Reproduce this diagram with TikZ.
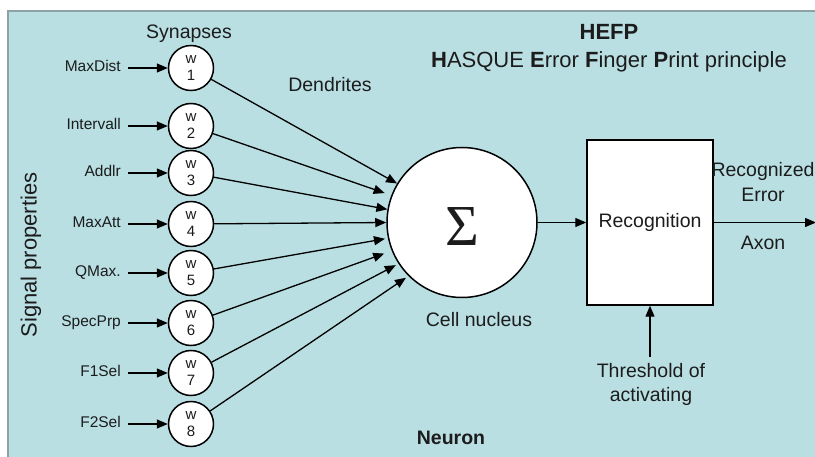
\documentclass[tikz,border=0pt]{standalone}
\usepackage{fontspec}
\setmainfont{Liberation Sans}
\newfontfamily\sigmafont{Liberation Serif}
\usetikzlibrary{arrows.meta}
\definecolor{panel}{HTML}{B9DFE3}
\definecolor{frameline}{HTML}{8DA2A5}
\definecolor{ink}{HTML}{1C1C1C}
\begin{document}
\begin{tikzpicture}[x=1pt,y=-1pt,
  txt/.style={inner sep=0pt, text height=0.716em, text depth=0pt, text=ink},
  small/.style={txt, font=\fontsize{15.5}{18}\selectfont},
  main/.style={txt, font=\fontsize{19.5}{24}\selectfont},
  title/.style={txt, font=\fontsize{22}{26}\selectfont},
  syn/.style={circle, draw, fill=white, line width=1.5pt, minimum size=45pt,
    inner sep=0pt, align=center, text=ink, font=\fontsize{15}{17}\selectfont},
  arr/.style={line width=1.3pt, -{Triangle[length=11pt,width=9pt]}},
]
\useasboundingbox (0,0) rectangle (815,457);
\fill[white] (0,0) rectangle (815,457);
% panel behind the neuron model
\draw[draw=frameline, line width=2pt, fill=panel] (8,11) rectangle (840,480);

% titles
\node[title, font=\bfseries\fontsize{22}{26}\selectfont] (hefp) at (609,36) {HEFP};
\node[title] (principle) at (609,64)
  {\textbf{H}ASQUE \textbf{E}rror \textbf{F}inger \textbf{P}rint principle};

\node[main] (synapses) at (189,35) {Synapses};
\node[main] (dendrites) at (330,88) {Dendrites};
\node[txt, font=\fontsize{22}{26}\selectfont, rotate=90] (signal) at (33,255) {Signal properties};

% cell nucleus
\node[circle, draw, fill=white, line width=1.5pt, minimum size=150pt, inner sep=0pt,
  font=\sigmafont\fontsize{58}{60}\selectfont, text=ink, text height=47pt, text depth=0pt]
  (sum) at (462,222.5) {Σ};
\node[main] (nucleus) at (479,323) {Cell nucleus};

% inputs and synapses
\foreach \n/\lab/\y in {1/MaxDist/68, 2/Intervall/126, 3/Addlr/173, 4/MaxAtt/224,
                        5/QMax./273, 6/SpecPrp/323, 7/F1Sel/373, 8/F2Sel/424} {
  \node[syn] (s\n) at (191,\y) {w\\\n};
  \node[small, anchor=east] (l\n) at (121,\y) {\lab};
  \draw[arr, shorten <=7pt] (l\n) -- (s\n);
}

% dendrites into the nucleus
\draw[arr] (s1) -- (sum.149);
\draw[arr, shorten >=7pt] (s2) -- (sum.159);
\draw[arr] (s3) -- (sum.170);
\draw[arr] (s4) -- (sum.180);
\draw[arr, shorten >=3pt] (s5) -- (sum.192);
\draw[arr, shorten >=8pt] (s6) -- (sum.202);
\draw[arr, shorten >=3pt] (s7) -- (sum.213);
\draw[arr, shorten >=3pt] (s8) -- (sum.225);

% recognition block and axon
\node[rectangle, draw, fill=white, line width=1.5pt, minimum width=126pt,
  minimum height=165pt, inner sep=0pt, text=ink, font=\fontsize{19.5}{24}\selectfont]
  (rec) at (650,222.5) {Recognition};
\draw[arr] (sum) -- (rec);
\coordinate (axonend) at (816,222.5);
\draw[arr] (rec) -- (axonend);
\node[main] (recerr1) at (763,173) {Recognized};
\node[main] (recerr2) at (763,198) {Error};
\node[main] (axon) at (763,246) {Axon};

% threshold input
\coordinate (thr) at (650,357);
\draw[arr] (thr) -- (rec);
\node[main] (thr1) at (651,374) {Threshold of};
\node[main] (thr2) at (651,398) {activating};

\node[main, font=\bfseries\fontsize{19.5}{22}\selectfont] (neuron) at (451,441) {Neuron};
\end{tikzpicture}
\end{document}
